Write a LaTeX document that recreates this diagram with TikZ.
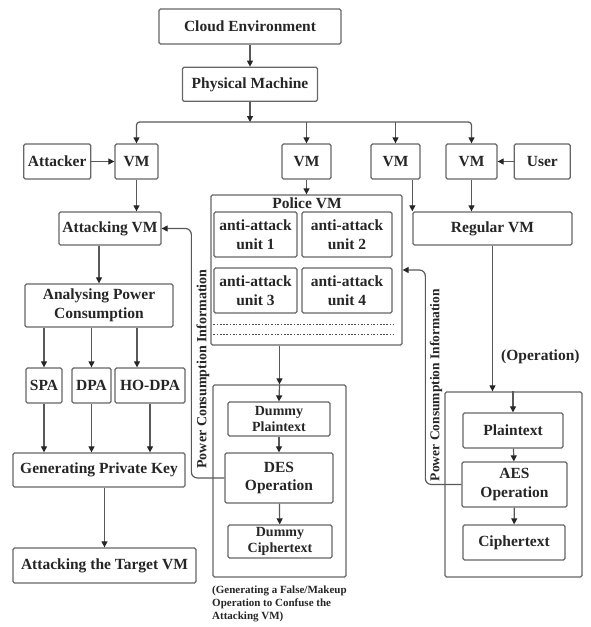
\documentclass[tikz,border=0pt]{standalone}
\usepackage{fontspec}
\setmainfont{Liberation Serif}
\usetikzlibrary{arrows.meta,positioning}

\begin{document}
\begin{tikzpicture}[x=1pt,y=-1pt]
    \tikzstyle{block} = [rectangle, draw=black!60, line width=1.3pt, rounded corners=1.5pt,
        align=center, inner sep=1pt, text=black!85,
        font=\fontsize{15.5}{18.5}\selectfont\bfseries]
    \tikzstyle{smalltext} = [font=\fontsize{14}{16}\selectfont\bfseries]
    \tikzstyle{line} = [draw=black!65, line width=1.2pt,
        -{Triangle[length=6pt,width=6pt,color=black!85]}]
    \tikzstyle{container} = [rectangle, draw=black!60, line width=1.3pt, rounded corners=1.5pt]
    \tikzstyle{dotline} = [draw=black!70, line width=1.6pt,
        dash pattern=on 2pt off 1.6pt on 1.2pt off 1.6pt]
    \tikzstyle{note} = [text=black!85, inner sep=0pt,
        font=\fontsize{15.5}{18.5}\selectfont\bfseries]
    \useasboundingbox (0,0) rectangle (590,627);

    % Cloud
    \node[block, minimum width=182pt, minimum height=35pt] (cloud) at (250,26.5) {Cloud Environment};
    \node[block, minimum width=135pt, minimum height=34pt, below=22pt of cloud] (phys) {Physical Machine};
    \coordinate (bus) at (250,122);
    \draw[line] (cloud) -- (phys);
    \draw[line] (phys) -- (bus);
    % VMs
    \node[block, minimum width=43pt, minimum height=35pt] (vma) at (136.5,161.5) {VM};
    \node[block, minimum width=67pt, minimum height=35pt, left=23pt of vma] (attacker) {Attacker};
    \node[block, minimum width=49pt, minimum height=35pt] (vmb) at (306.5,161.5) {VM};
    \node[block, minimum width=49pt, minimum height=35pt] (vmc) at (395.5,161.5) {VM};
    \node[block, minimum width=51pt, minimum height=35pt] (vmd) at (471.5,161.5) {VM};
    \node[block, minimum width=56pt, minimum height=35pt, right=16pt of vmd] (user) {User};
    \draw[line, rounded corners=3pt] (bus) -| (vma.north);
    \draw[line, rounded corners=3pt] (bus) -| (vmd.north);
    \draw[line] (vmb.north |- bus) -- (vmb.north);
    \draw[line] (vmc.north |- bus) -- (vmc.north);
    \draw[line] (attacker) -- (vma);
    \draw[line] (user) -- (vmd);

    % Attacker side
    \node[block, minimum width=102pt, minimum height=33pt] (attacking) at (110,228.5) {Attacking VM};
    \node[block, minimum width=148pt, minimum height=43pt] (analysing) at (99,305.5) {Analysing Power\\Consumption};
    \node[block, minimum width=36pt, minimum height=35pt] (spa) at (44,385.5) {SPA};
    \node[block, minimum width=39pt, minimum height=35pt] (dpa) at (91.5,385.5) {DPA};
    \node[block, minimum width=70pt, minimum height=35pt] (hodpa) at (150,385.5) {HO-DPA};
    \node[block, minimum width=172pt, minimum height=34pt] (genkey) at (99,470) {Generating Private Key};
    \node[block, minimum width=183pt, minimum height=35pt] (target) at (104.5,565.5) {Attacking the Target VM};
    \draw[line] (vma.south) -- (vma.south |- attacking.north);
    \draw[line] (attacking.south -| analysing.north) -- (analysing.north);
    \draw[line] (spa.north |- analysing.south) -- (spa.north);
    \draw[line] (dpa.north |- analysing.south) -- (dpa.north);
    \draw[line] ([xshift=-13pt]hodpa.north |- analysing.south) -- ([xshift=-13pt]hodpa.north);
    \draw[line] (spa.south) -- (spa.south |- genkey.north);
    \draw[line] (dpa.south) -- (dpa.south |- genkey.north);
    \draw[line] (hodpa.south) -- (hodpa.south |- genkey.north);
    \draw[line] (genkey.south -| target.north) -- (target.north);

    % Police VM
    \node[container, minimum width=191pt, minimum height=150pt] (police) at (306.5,270) {};
    \node[note] (policename) at (307,203) {Police VM};
    \node[block, minimum width=83pt, minimum height=45pt] (unita) at (255.5,234.5) {anti-attack\\unit 1};
    \node[block, minimum width=90pt, minimum height=45pt] (unitb) at (347,234.5) {anti-attack\\unit 2};
    \node[block, minimum width=83pt, minimum height=45pt] (unitc) at (255.5,290.5) {anti-attack\\unit 3};
    \node[block, minimum width=90pt, minimum height=45pt] (unitd) at (347,290.5) {anti-attack\\unit 4};
    \draw[dotline] ([yshift=-11pt]unitc.south west) -- ([yshift=-11pt]unitd.south east);
    \draw[dotline] ([yshift=-21pt]unitc.south west) -- ([yshift=-21pt]unitd.south east);
    \draw[line] (vmb.south) -- (vmb.south |- police.north);

    % DES
    \node[container, minimum width=133pt, minimum height=192pt] (des) at (279.5,481) {};
    \node[block, smalltext, minimum width=102pt, minimum height=34pt] (dplain) at (279,419) {Dummy\\Plaintext};
    \node[block, minimum width=108pt, minimum height=50pt] (desop) at (279,478) {DES\\Operation};
    \node[block, smalltext, minimum width=104pt, minimum height=33pt] (dcipher) at (280,541.5) {Dummy\\Ciphertext};
    \node[note, anchor=north west, align=left, font=\fontsize{11}{13}\selectfont\bfseries]
        (desnote) at (212,586) {(Generating a False/Makeup\\Operation to Confuse the\\Attacking VM)};
    \draw[line] (des.north |- police.south) -- (des.north);
    \draw[line] (des.north) -- (dplain.north);
    \draw[line] (dplain) -- (desop);
    \draw[line] (desop) -- (dcipher);

    % Regular VM and AES
    \node[block, minimum width=159pt, minimum height=33pt] (regular) at (492.5,228.5) {Regular VM};
    \node[container, minimum width=137pt, minimum height=185pt] (aes) at (513.5,484.5) {};
    \node[block, minimum width=100pt, minimum height=35pt] (plain) at (513,430.5) {Plaintext};
    \node[block, minimum width=105pt, minimum height=45pt] (aesop) at (514.5,484.5) {AES\\Operation};
    \node[block, minimum width=102pt, minimum height=35pt] (cipher) at (514,542.5) {Ciphertext};
    \node[note, anchor=west] (oplabel) at (501,357) {(Operation)};
    \draw[line] (vmc.south -| regular.north west) -- (regular.north west);
    \draw[line] (vmd.south) -- (vmd.south |- regular.north);
    \draw[line] (regular.south) -- (regular.south |- aes.north);
    \draw[line] (plain.north |- aes.north) -- (plain.north);
    \draw[line] (plain) -- (aesop);
    \draw[line] (aesop) -- (cipher);

    % Power consumption feedback
    \node[note, rotate=90, font=\fontsize{14}{16}\selectfont\bfseries] (pcleft) at (203,369) {Power Consumption Information};
    \node[note, rotate=90, font=\fontsize{13.5}{16}\selectfont\bfseries] (pcright) at (436,385) {Power Consumption Information};
    \draw[line, rounded corners=6pt] (desop.west) -- ++(-33pt,0) |- (attacking.east);
    \draw[line, rounded corners=6pt] (aesop.west) -- ++(-36pt,0) |- (police.east);
\end{tikzpicture}
\end{document}
